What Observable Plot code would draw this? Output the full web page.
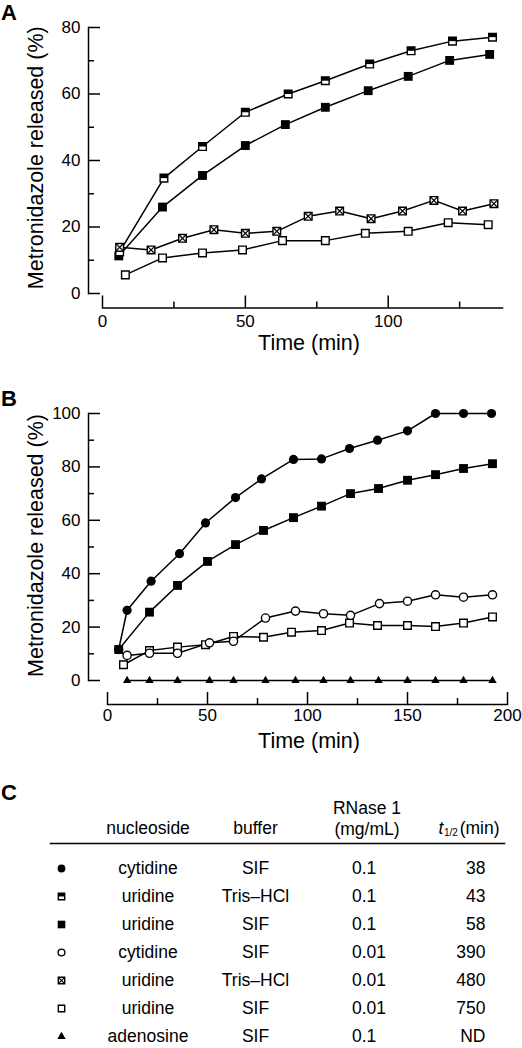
<!DOCTYPE html>
<html><head><meta charset="utf-8">
<script src="https://cdn.jsdelivr.net/npm/d3@7"></script>
<script src="https://cdn.jsdelivr.net/npm/@observablehq/plot@0.6"></script>
<style>
html,body{margin:0;padding:0;background:#fff;}
#root{position:relative;width:522px;height:1048px;overflow:hidden;font-family:"Liberation Sans",Arial,Helvetica,sans-serif;color:#000;background:#fff;}
.panel{position:absolute;left:0;}
.panel svg{display:block;overflow:visible;}
.letter{position:absolute;left:1px;font-weight:bold;font-size:22px;line-height:25px;}
</style></head><body><div id="root"></div>
<script>
// ---------- Panel A data ----------
const A_time_uridineTris01 = [6, 21.5, 35, 50, 65, 78, 93.5, 108, 122.5, 136.5];
const A_rel_uridineTris01  = [12.5, 34.7, 44.2, 54.5, 60, 64, 69, 73, 75.9, 77.1];
const A_time_uridineSIF01  = [5.7, 21, 35, 50, 64, 78, 93, 107, 121.5, 135.5];
const A_rel_uridineSIF01   = [11.3, 26, 35.5, 44.5, 50.8, 56, 61, 65.3, 70.1, 71.9];
const A_time_uridineTris001 = [6, 17, 28, 39, 50, 61, 72, 83, 94, 105, 116, 126, 137];
const A_rel_uridineTris001  = [13.9, 13.1, 16.6, 19.2, 18.1, 18.7, 23.2, 24.8, 22.5, 24.8, 28, 24.8, 27];
const A_time_uridineSIF001 = [8, 21, 35, 49, 63, 78, 92, 107, 121, 135];
const A_rel_uridineSIF001  = [5.6, 10.7, 12.2, 13.1, 15.9, 15.9, 18.1, 18.7, 21.3, 20.7];
const A_xDomain = [0, 140], A_yDomain = [0, 80];
const A_xTicks = [0, 50, 100], A_xMinor = [25, 75, 125];
const A_yTicks = [0, 20, 40, 60, 80], A_yMinor = [10, 30, 50, 70];

// ---------- Panel B data ----------
const B_time_cytidineSIF01 = [5.6, 9.8, 21.8, 36, 49, 64, 77, 93, 107, 121, 135, 150, 164, 178, 192];
const B_rel_cytidineSIF01  = [11.6, 26.3, 37.2, 47.5, 59, 68.5, 75.5, 82.8, 83, 86.9, 90, 93.5, 100, 100, 100];
const B_time_uridineSIF01  = [5.6, 21, 35, 50, 64, 78, 93, 107, 121.5, 135.5, 150, 164, 178, 192.5];
const B_rel_uridineSIF01   = [11.6, 25.6, 35.6, 44.6, 50.9, 56.2, 61, 65.3, 70, 71.9, 75, 77.1, 79.4, 81.2];
const B_time_cytidineSIF001 = [9.8, 21, 35, 51, 63, 79, 94, 108, 121.5, 136, 150, 164, 178, 192.5];
const B_rel_cytidineSIF001  = [9.4, 10.2, 10.2, 14.1, 14.7, 23.4, 26, 25, 24.4, 28.8, 29.7, 32.1, 31.2, 32.1];
const B_time_uridineSIF001 = [8, 21, 35, 49, 63, 78, 92, 107, 121, 135, 150, 164, 178, 192.5];
const B_rel_uridineSIF001  = [5.9, 11.2, 12.5, 13.4, 16.5, 16.2, 18.1, 18.7, 21.5, 20.6, 20.6, 20.2, 21.5, 23.8];
const B_time_adenosineSIF01 = [9.8, 21, 35, 51, 63, 79, 94, 108, 121.5, 135.5, 150, 164, 178, 192.5];
const B_rel_adenosineSIF01  = [0, 0, 0, 0, 0, 0, 0, 0, 0, 0, 0, 0, 0, 0];
const B_xDomain = [0, 200], B_yDomain = [0, 100];
const B_xTicks = [0, 50, 100, 150, 200], B_xMinor = [25, 75, 125, 175];
const B_yTicks = [0, 20, 40, 60, 80, 100], B_yMinor = [10, 30, 50, 70, 90];

const yLabel = "Metronidazole released (%)";
const xLabel = "Time (min)";

// ---------- Panel C data ----------
const tableNucleoside = ["cytidine", "uridine", "uridine", "cytidine", "uridine", "uridine", "adenosine"];
const tableBuffer     = ["SIF", "Tris–HCl", "SIF", "SIF", "Tris–HCl", "SIF", "SIF"];
const tableRNase      = ["0.1", "0.1", "0.1", "0.01", "0.01", "0.01", "0.1"];
const tableHalfLife   = ["38", "43", "58", "390", "480", "750", "ND"];
const tableMarker     = ["filledCircle", "halfSquare", "filledSquare", "openCircle", "crossSquare", "openSquare", "filledTriangle"];

// ---------- drawing ----------
const FONT = '"Liberation Sans", Arial, Helvetica, sans-serif';
const halfTop = {draw(ctx, size) { const w = Math.sqrt(size); ctx.rect(-w / 2, -w / 2, w, w / 2); }};
const crossSym = {draw(ctx, size) { const h = Math.sqrt(size) / 2; ctx.moveTo(-h, -h); ctx.lineTo(h, h); ctx.moveTo(h, -h); ctx.lineTo(-h, h); }};

function markerMarks(kind, data, x, y, r) {
  const b = {x, y, r};
  const openSq = () => Plot.dot(data, {...b, symbol: "square", fill: "white", stroke: "black", strokeWidth: 1.4});
  switch (kind) {
    case "filledCircle": return [Plot.dot(data, {...b, symbol: "circle", fill: "black", stroke: "none"})];
    case "openCircle": return [Plot.dot(data, {...b, symbol: "circle", fill: "white", stroke: "black", strokeWidth: 1.4})];
    case "filledSquare": return [Plot.dot(data, {...b, symbol: "square", fill: "black", stroke: "none"})];
    case "openSquare": return [openSq()];
    case "halfSquare": return [openSq(), Plot.dot(data, {...b, symbol: halfTop, fill: "black", stroke: "none"})];
    case "crossSquare": return [openSq(), Plot.dot(data, {...b, symbol: crossSym, fill: "none", stroke: "black", strokeWidth: 1.2})];
    case "filledTriangle": return [Plot.dot(data, {...b, symbol: "triangle", fill: "black", stroke: "none"})];
  }
}
const chartR = {filledCircle: 4.6, openCircle: 4.1, filledSquare: 5, openSquare: 4.3, halfSquare: 4.3, crossSquare: 4.3, filledTriangle: 3.1};
const tableR = {filledCircle: 3.9, openCircle: 3.4, filledSquare: 4.3, openSquare: 3.6, halfSquare: 3.6, crossSquare: 3.6, filledTriangle: 3.1};

const zip = (ts, vs) => ts.map((t, i) => ({t, v: vs[i]}));

function chart(o) {
  const marks = [
    Plot.frame({anchor: "left", insetBottom: o.insetBottom, strokeWidth: 1.5}),
    Plot.frame({anchor: "bottom", insetLeft: o.insetLeft, strokeWidth: 1.5}),
    Plot.axisY(o.yTicks, {tickSize: -12, fill: "none", strokeWidth: 1.5, label: null}),
    Plot.axisY(o.yMinor, {tickSize: -6, fill: "none", strokeWidth: 1.5, label: null}),
    Plot.axisY(o.yTicks, {tickSize: 0, tickPadding: 8, fontSize: 17, label: null}),
    Plot.axisX(o.xTicks, {tickSize: -12, fill: "none", strokeWidth: 1.5, label: null}),
    Plot.axisX(o.xMinor, {tickSize: -6, fill: "none", strokeWidth: 1.5, label: null}),
    Plot.axisX(o.xTicks, {tickSize: 0, tickPadding: o.xPad, fontSize: 17, label: null}),
    Plot.text([yLabel], {frameAnchor: "left", rotate: -90, dx: -52, dy: o.yLabelDy, fontSize: 21.5, lineAnchor: "middle", textAnchor: "middle"}),
    Plot.text([xLabel], {frameAnchor: "bottom", dx: o.xLabelDx, dy: o.xLabelDy, fontSize: 21.5, lineAnchor: "middle"})
  ];
  for (const s of o.series) marks.push(Plot.line(s.data, {x: "t", y: "v", stroke: "black", strokeWidth: 1.5}));
  for (const s of o.series) marks.push(...markerMarks(s.kind, s.data, "t", "v", chartR[s.kind]));
  return Plot.plot({
    width: 522, height: o.height,
    marginLeft: 88, marginRight: o.marginRight, marginTop: o.marginTop, marginBottom: o.marginBottom,
    x: {domain: o.xDomain, insetLeft: o.insetLeft},
    y: {domain: o.yDomain, insetBottom: o.insetBottom},
    style: {fontFamily: FONT, color: "black", background: "white"},
    marks
  });
}

const chartA = chart({
  height: 370, marginTop: 27, marginBottom: 62.5, marginRight: 20, insetLeft: 14, insetBottom: 14.5,
  xDomain: A_xDomain, yDomain: A_yDomain, xTicks: A_xTicks, xMinor: A_xMinor, yTicks: A_yTicks, yMinor: A_yMinor,
  xPad: 7, yLabelDy: -10, xLabelDx: 13.5, xLabelDy: 35.5,
  series: [
    {kind: "openSquare", data: zip(A_time_uridineSIF001, A_rel_uridineSIF001)},
    {kind: "filledSquare", data: zip(A_time_uridineSIF01, A_rel_uridineSIF01)},
    {kind: "halfSquare", data: zip(A_time_uridineTris01, A_rel_uridineTris01)},
    {kind: "crossSquare", data: zip(A_time_uridineTris001, A_rel_uridineTris001)}
  ]
});

const chartB = chart({
  height: 390, marginTop: 43, marginBottom: 56, marginRight: 15, insetLeft: 19, insetBottom: 24,
  xDomain: B_xDomain, yDomain: B_yDomain, xTicks: B_xTicks, xMinor: B_xMinor, yTicks: B_yTicks, yMinor: B_yMinor,
  xPad: 4, yLabelDy: -13.5, xLabelDx: 11, xLabelDy: 37,
  series: [
    {kind: "filledTriangle", data: zip(B_time_adenosineSIF01, B_rel_adenosineSIF01)},
    {kind: "openSquare", data: zip(B_time_uridineSIF001, B_rel_uridineSIF001)},
    {kind: "openCircle", data: zip(B_time_cytidineSIF001, B_rel_cytidineSIF001)},
    {kind: "filledCircle", data: zip(B_time_cytidineSIF01, B_rel_cytidineSIF01)},
    {kind: "filledSquare", data: zip(B_time_uridineSIF01, B_rel_uridineSIF01)}
  ]
});

// table
const rows = tableNucleoside.map((n, i) => ({i, nucleoside: n, buffer: tableBuffer[i], rnase: tableRNase[i], half: tableHalfLife[i], marker: tableMarker[i]}));
const tableCols = ["sym", "nuc", "buf", "rna", "t"];
const tMarks = [
  Plot.frame({anchor: "top", strokeWidth: 1.5}),
  Plot.text(["nucleoside"], {x: () => "nuc", frameAnchor: "top", dx: -19.5, dy: -15, lineAnchor: "middle"}),
  Plot.text(["buffer"], {x: () => "buf", frameAnchor: "top", dx: -18, dy: -15, lineAnchor: "middle"}),
  Plot.text(["RNase 1\n(mg/mL)"], {x: () => "rna", frameAnchor: "top", dx: -12.5, dy: -25.5, lineAnchor: "middle", lineHeight: 1.2}),
  Plot.text(["t"], {x: () => "t", frameAnchor: "top", dx: -47, dy: -15, lineAnchor: "middle", textAnchor: "start", fontStyle: "italic"}),
  Plot.text(["1/2"], {x: () => "t", frameAnchor: "top", dx: -41.5, dy: -11, lineAnchor: "middle", textAnchor: "start", fontSize: 10}),
  Plot.text(["(min)"], {x: () => "t", frameAnchor: "top", dx: 14, dy: -15, lineAnchor: "middle", textAnchor: "end"}),
  Plot.text(rows, {x: () => "nuc", y: "i", text: "nucleoside", dx: -19.5, lineAnchor: "middle"}),
  Plot.text(rows, {x: () => "buf", y: "i", text: "buffer", dx: -18, lineAnchor: "middle"}),
  Plot.text(rows, {x: () => "rna", y: "i", text: "rnase", dx: -27.5, textAnchor: "start", lineAnchor: "middle"}),
  Plot.text(rows, {x: () => "t", y: "i", text: "half", textAnchor: "end", lineAnchor: "middle"})
];
for (const kind of new Set(tableMarker)) {
  tMarks.push(...markerMarks(kind, rows.filter(r => r.marker === kind), () => "sym", "i", tableR[kind]));
}
const tableC = Plot.plot({
  width: 522, height: 278, marginLeft: 50, marginRight: 18, marginTop: 73, marginBottom: 6,
  x: {type: "point", domain: tableCols, padding: 0, insetLeft: 10, insetRight: 18, axis: null},
  y: {type: "point", domain: d3.range(rows.length), padding: 0, insetTop: 23, insetBottom: 4, axis: null},
  style: {fontFamily: FONT, fontSize: "17.5px", color: "black", background: "white"},
  marks: tMarks
});

const root = document.getElementById("root");
function place(node, top) { const d = document.createElement("div"); d.className = "panel"; d.style.top = top + "px"; d.appendChild(node); root.appendChild(d); }
place(chartA, 0);
place(chartB, 370);
place(tableC, 770);
for (const [t, top] of [["A", 0], ["B", 385.5], ["C", 779.5]]) {
  const l = document.createElement("div"); l.className = "letter"; l.style.top = top + "px"; l.textContent = t; root.appendChild(l);
}
</script></body></html>
